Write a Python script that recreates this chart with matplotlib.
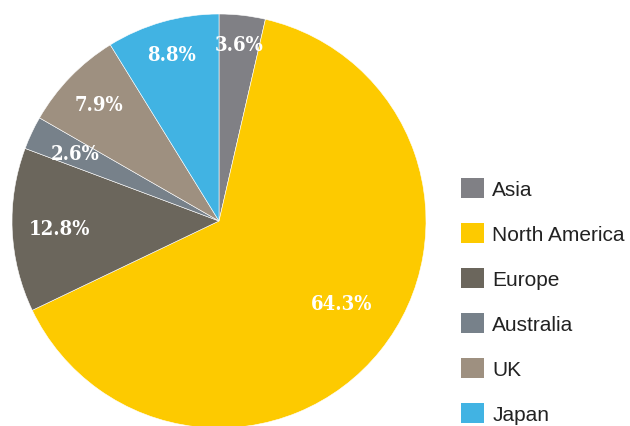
import matplotlib
matplotlib.use("Agg")
import matplotlib.pyplot as plt
from matplotlib.patches import Patch
import numpy as np

# --- data ---
regions = ["Asia", "North America", "Europe", "Australia", "UK", "Japan"]
shares = [3.6, 64.3, 12.8, 2.6, 7.9, 8.8]
colors = ["#808085", "#fdca00", "#6b665c", "#77818a", "#9e9080", "#41b3e3"]

# radial position of each percentage label (fraction of radius)
label_radius = [0.86, 0.71, 0.77, 0.77, 0.81, 0.84]
label_shift = [0, 5, 0, 0, 0, 0]  # degrees nudge along the arc

W, H = 630, 427
fig = plt.figure(figsize=(W / 100, H / 100), dpi=100)

# pie centre (219, 222) px, radius 207 px
cx, cy, r = 219, 222, 207
ax = fig.add_axes([(cx - r) / W, (H - cy - r) / H, 2 * r / W, 2 * r / H])

wedges, _ = ax.pie(
    shares,
    colors=colors,
    startangle=90,
    counterclock=False,
    radius=1,
    wedgeprops=dict(edgecolor="white", linewidth=0.4),
)
ax.set_xlim(-1, 1)
ax.set_ylim(-1, 1)

for w, val, rad, sh in zip(wedges, shares, label_radius, label_shift):
    ang = np.deg2rad((w.theta1 + w.theta2) / 2 + sh)
    ax.text(rad * np.cos(ang), rad * np.sin(ang), f"{val:.1f}%",
            ha="center", va="center", color="white",
            fontsize=14.5, fontweight="heavy", family="DejaVu Serif",
            fontstretch="condensed")

handles = [Patch(facecolor=c, edgecolor="none") for c in colors]
fig.legend(
    handles, regions,
    loc="center left",
    bbox_to_anchor=(461 / W, (H - 302) / H),
    frameon=False,
    borderpad=0, borderaxespad=0,
    prop={"family": "Liberation Sans", "size": 15},
    handlelength=1.1, handleheight=1.1,
    handletextpad=0.4, labelspacing=1.14,
    labelcolor="#222222",
)

fig.savefig("out.png", dpi=100)
